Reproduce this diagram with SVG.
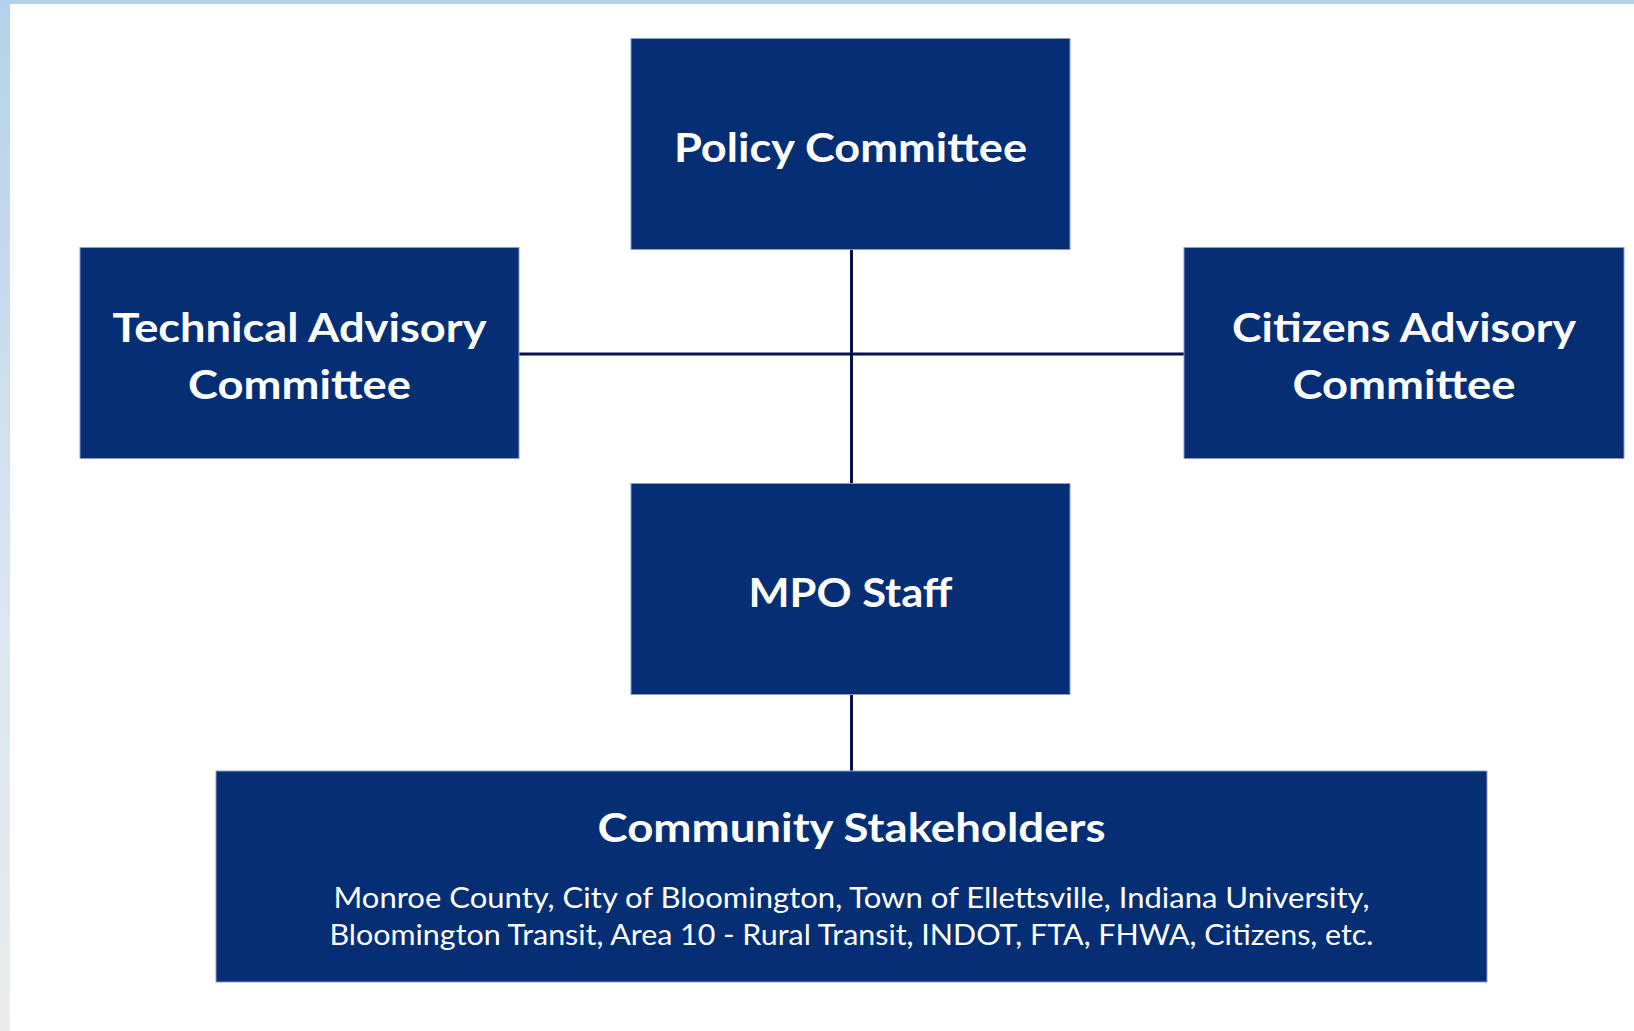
<svg xmlns="http://www.w3.org/2000/svg" width="1634" height="1031" viewBox="0 0 1634 1031">
  <defs>
    <linearGradient id="side" x1="0" y1="0" x2="0" y2="1">
      <stop offset="0" stop-color="#b4d1eb"/>
      <stop offset="0.6" stop-color="#dbe7f2"/>
      <stop offset="1" stop-color="#ebebeb"/>
    </linearGradient>
  </defs>
  <style>
    .box { fill: #052e74; stroke: #8a9cc4; stroke-width: 1; }
    .t { font-family: Lato, "Open Sans", "Liberation Sans", sans-serif; font-weight: bold; font-size: 40px; fill: #ffffff; text-anchor: middle; }
    .s { font-family: Lato, "Open Sans", "Liberation Sans", sans-serif; font-size: 28px; fill: #ffffff; text-anchor: middle; }
    .c { stroke: #0c0f4e; stroke-width: 3; fill: none; }
  </style>
  <rect x="0" y="0" width="1634" height="1031" fill="#ffffff"/>
  <rect x="0" y="0" width="1634" height="4" fill="#b4d1eb"/>
  <rect x="0" y="0" width="10" height="1031" fill="url(#side)"/>

  <g id="connectors">
    <line class="c" x1="851.5" y1="249" x2="851.5" y2="483"/>
    <line class="c" x1="519" y1="354" x2="1184" y2="354"/>
    <line class="c" x1="851.5" y1="695" x2="851.5" y2="771"/>
  </g>

  <g id="policy">
    <rect class="box" x="631" y="38.5" width="439" height="211"/>
    <text class="t" x="850.5" y="162" textLength="353" lengthAdjust="spacingAndGlyphs">Policy Committee</text>
  </g>
  <g id="technical">
    <rect class="box" x="80" y="247.5" width="439" height="211"/>
    <text class="t" x="299.5" y="342" textLength="374" lengthAdjust="spacingAndGlyphs">Technical Advisory</text>
    <text class="t" x="299.5" y="399" textLength="223" lengthAdjust="spacingAndGlyphs">Committee</text>
  </g>
  <g id="citizens">
    <rect class="box" x="1184" y="247.5" width="440" height="211"/>
    <text class="t" x="1404" y="342" textLength="344" lengthAdjust="spacingAndGlyphs">Citizens Advisory</text>
    <text class="t" x="1404" y="399" textLength="223" lengthAdjust="spacingAndGlyphs">Committee</text>
  </g>
  <g id="mpo">
    <rect class="box" x="631" y="483.5" width="439" height="211"/>
    <text class="t" x="850.5" y="607" textLength="204" lengthAdjust="spacingAndGlyphs">MPO Staff</text>
  </g>
  <g id="community">
    <rect class="box" x="216" y="771" width="1271" height="211"/>
    <text class="t" x="851.5" y="842" textLength="508" lengthAdjust="spacingAndGlyphs">Community Stakeholders</text>
    <text class="s" x="851.5" y="908" textLength="1036" lengthAdjust="spacingAndGlyphs">Monroe County, City of Bloomington, Town of Ellettsville, Indiana University,</text>
    <text class="s" x="851.5" y="945" textLength="1044" lengthAdjust="spacingAndGlyphs">Bloomington Transit, Area 10 - Rural Transit, INDOT, FTA, FHWA, Citizens, etc.</text>
  </g>
</svg>
